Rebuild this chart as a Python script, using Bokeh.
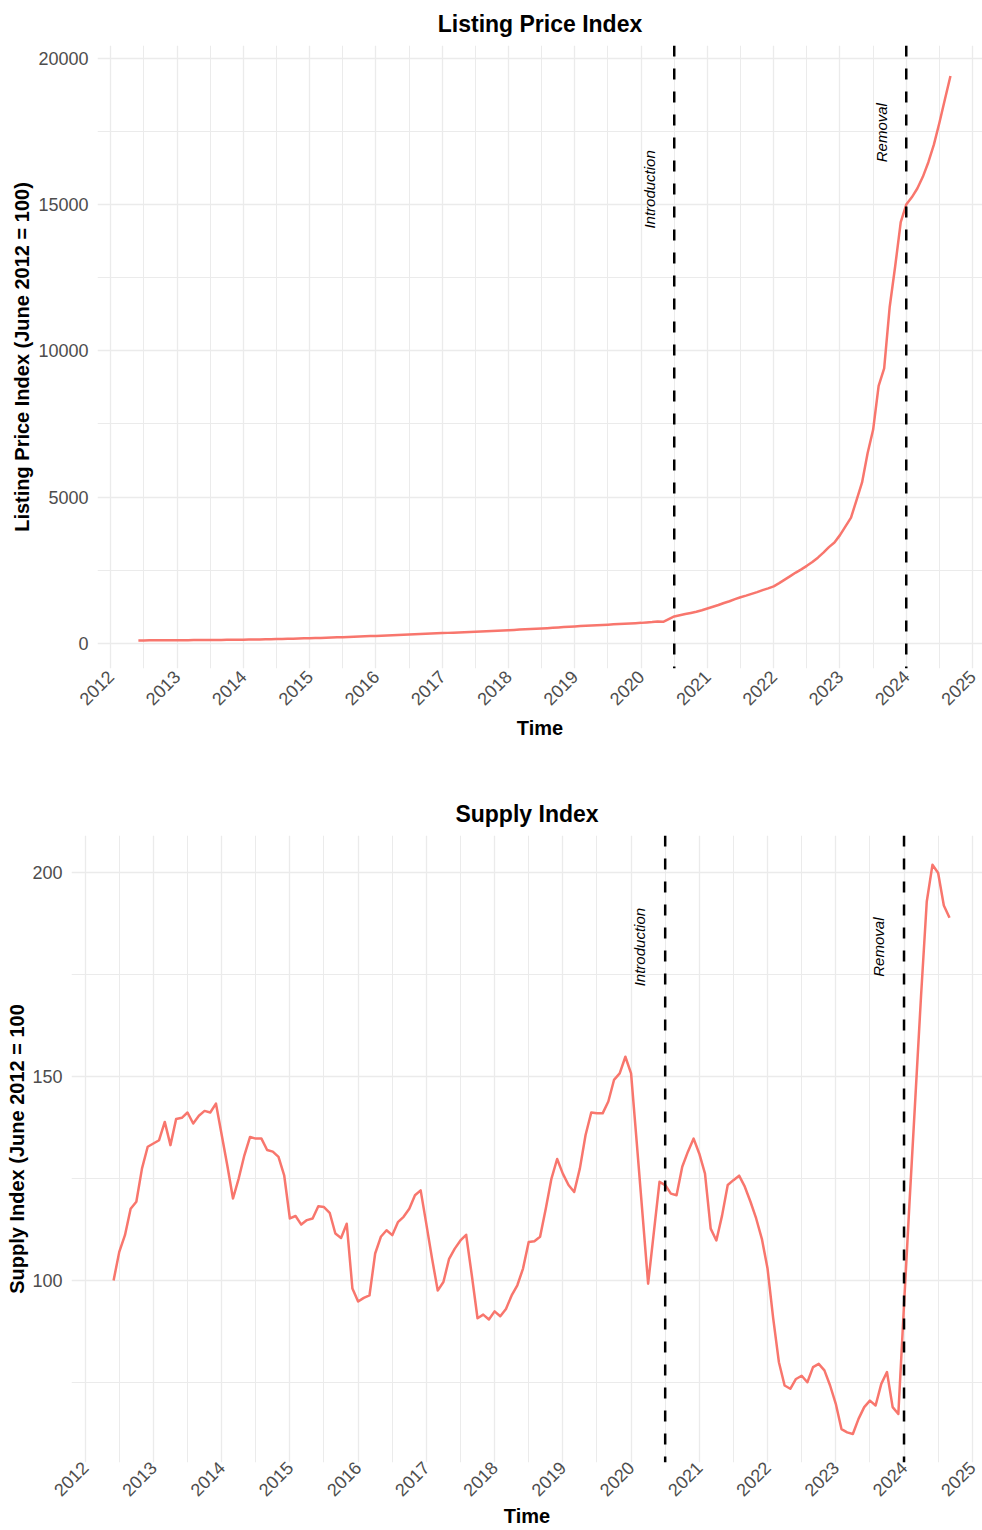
import math
from bokeh.plotting import figure
from bokeh.models import Span, Range1d, FixedTicker, Label
from bokeh.embed import file_html
from bokeh.resources import INLINE

# ---------------- data (monthly, June 2012 .. September 2024) ----------------
START_YEAR = 2012
START_MONTH = 6

listing_price = [
    100, 101, 102, 103, 105, 106, 107,                                   # 2012 Jun-Dec
    108, 109, 110, 111, 112, 113, 115, 116, 118, 120, 122, 124,          # 2013
    126, 129, 132, 135, 139, 143, 147, 151, 155, 160, 165, 170,          # 2014
    175, 181, 187, 193, 199, 205, 212, 219, 226, 233, 240, 247,          # 2015
    255, 263, 271, 279, 287, 295, 303, 311, 319, 327, 335, 343,          # 2016
    350, 358, 366, 374, 382, 390, 398, 406, 414, 423, 432, 441,          # 2017
    450, 460, 470, 480, 490, 500, 510, 520, 530, 543, 556, 568,          # 2018
    580, 590, 600, 610, 620, 630, 640, 650, 660, 670, 680, 690,          # 2019
    700, 715, 730, 750, 735, 830, 920, 960, 1000, 1040, 1080, 1130,      # 2020
    1190, 1250, 1310, 1380, 1440, 1510, 1575, 1630, 1690, 1750, 1820, 1880,  # 2021
    1950, 2060, 2180, 2300, 2420, 2530, 2650, 2780, 2930, 3100, 3290, 3450,  # 2022
    3700, 4000, 4300, 4900, 5500, 6500, 7300, 8800, 9400, 11500, 12900, 14400,  # 2023
    15000, 15250, 15550, 15950, 16450, 17050, 17800, 18600, 19400,      # 2024 Jan-Sep
]

supply = [
    100.0, 107.0, 111.1, 117.6, 119.3, 127.5, 132.8,                     # 2012 Jun-Dec
    133.6, 134.4, 138.9, 133.2, 139.6, 139.9, 141.2, 138.5, 140.4, 141.6, 141.2, 143.4,  # 2013
    135.8, 128.2, 120.1, 125.0, 130.7, 135.2, 134.8, 134.8, 132.0, 131.6, 130.3, 125.8,  # 2014
    115.2, 115.8, 113.7, 114.8, 115.2, 118.2, 118.0, 116.6, 111.5, 110.4, 113.9, 98.0,   # 2015
    94.8, 95.7, 96.3, 106.6, 110.7, 112.3, 111.1, 114.3, 115.6, 117.6, 120.9, 122.1,     # 2016
    113.8, 105.4, 97.5, 99.6, 105.3, 107.8, 109.8, 111.2, 101.2, 90.7, 91.6, 90.4,       # 2017
    92.4, 91.2, 93.0, 96.3, 98.8, 102.9, 109.4, 109.6, 110.7, 117.6, 125.0, 129.8,       # 2018
    126.2, 123.4, 121.7, 127.5, 135.7, 141.2, 141.0, 141.0, 143.9, 149.2, 150.8, 154.9,  # 2019
    150.8, 133.8, 116.5, 99.2, 111.7, 124.2, 123.4, 121.3, 120.9, 127.9, 131.6, 134.8,   # 2020
    131.1, 126.2, 112.7, 109.8, 115.9, 123.4, 124.6, 125.7, 123.0, 119.3, 115.2, 110.2,  # 2021
    102.9, 90.6, 79.9, 74.2, 73.4, 75.8, 76.6, 75.0, 78.7, 79.5, 77.9, 74.2,             # 2022
    69.7, 63.5, 62.7, 62.3, 66.0, 68.9, 70.5, 69.3, 74.6, 77.5, 68.9, 67.2,              # 2023
    94.0, 120.0, 145.0, 170.0, 193.0, 202.0, 200.0, 192.0, 189.0,        # 2024 Jan-Sep
]

year_ticks = list(range(2012, 2026))
year_labels = [str(y) for y in year_ticks]

price_ticks = [0, 5000, 10000, 15000, 20000]
price_minor = [2500, 7500, 12500, 17500]
supply_ticks = [100, 150, 200]
supply_minor = [75, 125, 175]

events = ["Introduction", "Removal"]
event_dates = [2020.5, 2024.0]          # July 2020, January 2024
price_label_frac = [0.8, 0.9]
supply_label_frac = [0.9, 0.9]

time = [START_YEAR + (START_MONTH - 1 + i) / 12 for i in range(len(supply))]

# ---------------- styling ----------------
LINE_COLOR = "#F8766D"
GRID = "#EBEBEB"
FONT = "Liberation Sans"
TICK_COLOR = "#4D4D4D"
LABEL_SHIFT = 0.38   # years to the left of each dashed line


def style(p, yticks, yminor, ylabel, x_std, x_title_std, y_title_std):
    p.outline_line_color = None
    p.background_fill_color = "white"
    p.border_fill_color = "white"
    p.title.text_font = FONT
    p.title.text_font_size = "23px"
    p.title.text_font_style = "bold"
    p.title.text_color = "black"
    p.title.align = "center"
    p.title.standoff = 17

    p.xaxis.ticker = FixedTicker(ticks=year_ticks,
                                 minor_ticks=[2011.5] + [y + 0.5 for y in year_ticks])
    p.xaxis.major_label_overrides = {t: l for t, l in zip(year_ticks, year_labels)}
    p.xaxis.major_label_orientation = math.pi / 4
    p.yaxis.ticker = FixedTicker(ticks=yticks, minor_ticks=yminor)

    for ax in (p.xaxis[0], p.yaxis[0]):
        ax.axis_line_color = None
        ax.major_tick_line_color = None
        ax.minor_tick_line_color = None
        ax.major_tick_out = 0
        ax.major_tick_in = 0
        ax.minor_tick_out = 0
        ax.minor_tick_in = 0
        ax.major_label_text_font = FONT
        ax.major_label_text_font_size = "18px"
        ax.major_label_text_color = TICK_COLOR
        ax.axis_label_text_font = FONT
        ax.axis_label_text_font_size = "20px"
        ax.axis_label_text_font_style = "bold"
        ax.axis_label_text_color = "black"
    p.xaxis.axis_label = "Time"
    p.yaxis.axis_label = ylabel
    p.xaxis.major_label_standoff = x_std
    p.xaxis.axis_label_standoff = x_title_std
    p.yaxis.major_label_standoff = 9
    p.yaxis.axis_label_standoff = y_title_std

    for g in (p.xgrid[0], p.ygrid[0]):
        g.grid_line_color = GRID
        g.grid_line_width = 1.3
        g.minor_grid_line_color = GRID
        g.minor_grid_line_width = 1.0


def add_events(p, values, fracs):
    top = max(values)
    for name, d, f in zip(events, event_dates, fracs):
        p.add_layout(Span(location=d, dimension="height", line_color="black",
                          line_width=2.5, line_dash="11 12"))
        p.add_layout(Label(x=d - LABEL_SHIFT, y=top * f, text=name, angle=math.pi / 2,
                           text_align="center", text_baseline="middle",
                           text_font=FONT, text_font_size="15px",
                           text_font_style="italic", text_color="black"))


X_RANGE = (2011.8, 2025.15)

# ---------------- top: listing price index ----------------
p1 = figure(title="Listing Price Index", output_backend="svg", toolbar_location=None,
            width=982, height=787,
            min_border_left=97, min_border_right=0, min_border_top=44, min_border_bottom=119,
            x_range=Range1d(*X_RANGE), y_range=Range1d(-860, 20440))
style(p1, price_ticks, price_minor, "Listing Price Index (June 2012 = 100)", 5, 3, 2)
p1.line(time, listing_price, line_color=LINE_COLOR, line_width=2.5, line_join="round")
add_events(p1, listing_price, price_label_frac)

# ---------------- bottom: supply index ----------------
p2 = figure(title="Supply Index", output_backend="svg", toolbar_location=None,
            width=982, height=743,
            min_border_left=71, min_border_right=0, min_border_top=48, min_border_bottom=68,
            x_range=Range1d(*X_RANGE), y_range=Range1d(55.3, 209.2))
style(p2, supply_ticks, supply_minor, "Supply Index (June 2012 = 100", 2, 0, 1)
p2.line(time, supply, line_color=LINE_COLOR, line_width=2.5, line_join="round")
add_events(p2, supply, supply_label_frac)

open("out.html", "w").write(file_html([p1, p2], INLINE))
